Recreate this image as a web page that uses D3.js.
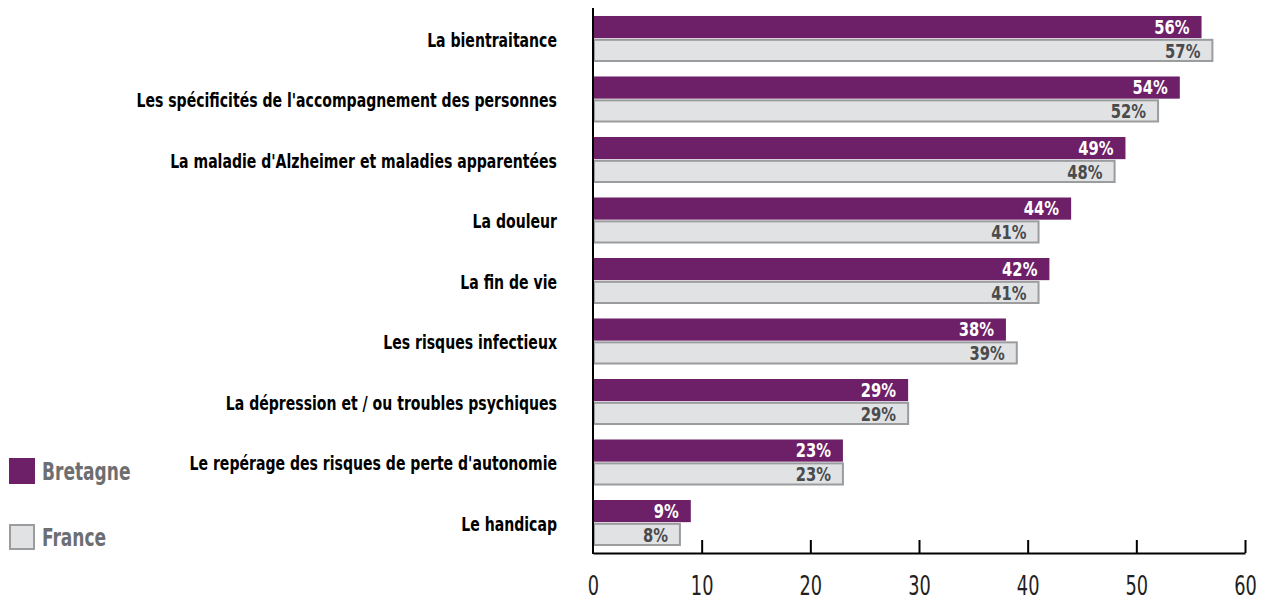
<!DOCTYPE html>
<html><head><meta charset="utf-8">
<script src="https://cdn.jsdelivr.net/npm/d3@7"></script>
<style>
html,body{margin:0;padding:0;background:#fff;}
svg{display:block;}
text{font-family:"Liberation Sans Narrow","Arial Narrow","DejaVu Sans Condensed",sans-serif;}
</style></head>
<body>
<svg id="chart" width="1266" height="601"></svg>
<script>
const categories = [
  "La bientraitance",
  "Les spécificités de l'accompagnement des personnes",
  "La maladie d'Alzheimer et maladies apparentées",
  "La douleur",
  "La fin de vie",
  "Les risques infectieux",
  "La dépression et / ou troubles psychiques",
  "Le repérage des risques de perte d'autonomie",
  "Le handicap"
];
const seriesNames = ["Bretagne", "France"];
const bretagne = [56, 54, 49, 44, 42, 38, 29, 23, 9];
const france = [57, 52, 48, 41, 41, 39, 29, 23, 8];
const tickValues = [0, 10, 20, 30, 40, 50, 60];

const svg = d3.select("#chart");
const x = d3.scaleLinear().domain([0, 60]).range([593, 1245]);
const y = d3.scaleBand().domain(categories).range([8, 553]).paddingInner(0.256).paddingOuter(0.132);
const ys = d3.scaleBand().domain(seriesNames).range([0, y.bandwidth()]).paddingInner(0.03);

const purple = "#6d2067";
const greyFill = "#e1e2e4";
const greyStroke = "#9b9c9e";

// horizontally condense a text around its anchor
function condense(sel, k) {
  sel.each(function() {
    const t = d3.select(this);
    const tx = +t.attr("x") || 0, ty = +t.attr("y") || 0;
    t.attr("x", 0).attr("y", 0).attr("transform", `translate(${tx},${ty}) scale(${k},1)`);
  });
}

const data = categories.map((c, i) => ({c, vals: [bretagne[i], france[i]]}));

const g = svg.append("g");
const valK = 0.82;
const catLabels = [];
data.forEach(d => {
  const gy = y(d.c);
  g.append("rect")
    .attr("x", x(0)).attr("y", gy + ys("Bretagne"))
    .attr("width", x(d.vals[0]) - x(0)).attr("height", ys.bandwidth())
    .attr("fill", purple);
  g.append("rect")
    .attr("x", x(0) + 1).attr("y", gy + ys("France") + 1)
    .attr("width", x(d.vals[1]) - x(0) - 1).attr("height", ys.bandwidth() - 1)
    .attr("fill", greyFill).attr("stroke", greyStroke).attr("stroke-width", 2);
  g.append("text")
    .attr("x", x(d.vals[0]) - 12).attr("y", gy + ys("Bretagne") + ys.bandwidth() / 2)
    .attr("dy", "0.34em").attr("text-anchor", "end")
    .attr("fill", "#ffffff").attr("font-weight", "bold").attr("font-size", 20)
    .text(d.vals[0] + "%").call(condense, valK);
  g.append("text")
    .attr("x", x(d.vals[1]) - 12).attr("y", gy + ys("France") + ys.bandwidth() / 2 + 1)
    .attr("dy", "0.34em").attr("text-anchor", "end")
    .attr("fill", "#4a4b4d").attr("font-weight", "bold").attr("font-size", 20)
    .text(d.vals[1] + "%").call(condense, valK);
  catLabels.push(g.append("text")
    .attr("x", 557).attr("y", gy + y.bandwidth() / 2 + 1)
    .attr("dy", "0.36em").attr("text-anchor", "end")
    .attr("fill", "#000").attr("font-weight", "bold").attr("font-size", 20)
    .text(d.c));
});
// fit the longest category label to the reference width
const longest = d3.max(catLabels, t => t.node().getComputedTextLength());
const catK = 421 / longest;
catLabels.forEach(t => t.call(condense, catK));

// x axis
const xAxis = d3.axisBottom(x).tickValues(tickValues).tickSizeInner(-13).tickSizeOuter(0).tickPadding(24);
const ax = svg.append("g").attr("transform", "translate(0,553)").call(xAxis);
ax.select(".domain").attr("stroke", "#000").attr("stroke-width", 2);
ax.selectAll(".tick line").attr("stroke", "#000").attr("stroke-width", 2);
ax.selectAll(".tick").filter(d => d === 0).select("line").remove();
ax.selectAll(".tick text").attr("font-size", 26).attr("fill", "#231f20")
  .attr("font-family", '"Liberation Sans Narrow","Arial Narrow","DejaVu Sans Condensed",sans-serif')
  .attr("transform", "scale(0.76,1)")
  .attr("x", 0);

// y axis line
svg.append("line").attr("x1", x(0)).attr("x2", x(0)).attr("y1", 8).attr("y2", 554)
  .attr("stroke", "#000").attr("stroke-width", 2);

// legend
const leg = svg.append("g");
const legY = [458, 524];
seriesNames.forEach((s, i) => {
  if (i === 0) {
    leg.append("rect").attr("x", 9).attr("y", legY[i]).attr("width", 26).attr("height", 26).attr("fill", purple);
  } else {
    leg.append("rect").attr("x", 10).attr("y", legY[i] + 1).attr("width", 24).attr("height", 24)
      .attr("fill", greyFill).attr("stroke", greyStroke).attr("stroke-width", 2);
  }
  leg.append("text").attr("x", 42).attr("y", legY[i] + 13).attr("dy", "0.36em")
    .attr("fill", "#6d6e71").attr("font-weight", "bold").attr("font-size", 24).text(s)
    .call(condense, 0.79);
});
</script>
</body></html>
